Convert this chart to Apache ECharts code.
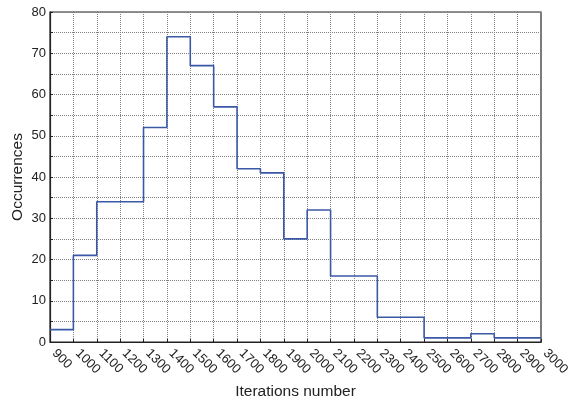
<!DOCTYPE html>
<html>
<head>
<meta charset="utf-8">
<script src="https://cdn.jsdelivr.net/npm/echarts@6/dist/echarts.min.js"></script>
<style>html,body{margin:0;padding:0;background:#fff;}#c{width:569px;height:401px;}</style>
</head>
<body>
<div id="c"></div>
<script>
const binStarts = [900,1000,1100,1200,1300,1400,1500,1600,1700,1800,1900,2000,2100,2200,2300,2400,2500,2600,2700,2800,2900];
const counts    = [3,21,34,34,52,74,67,57,42,41,25,32,16,16,6,6,1,1,2,1,1];
const binEnd = 3000;
const xLabel = 'Iterations number';
const yLabel = 'Occurrences';

const data = binStarts.map((x, i) => [x, counts[i]]);
data.push([binEnd, counts[counts.length - 1]]);

const font = '"Liberation Sans", Arial, Helvetica, sans-serif';
const grid = '#808080';
const chart = echarts.init(document.getElementById('c'), null, {renderer: 'canvas'});
chart.setOption({
  animation: false,
  backgroundColor: '#fff',
  grid: {left: 50, right: 28, top: 12, bottom: 59, containLabel: false, outerBoundsMode: 'none',
         show: true, borderColor: '#222', borderWidth: 1.2, backgroundColor: 'transparent'},
  xAxis: {
    type: 'value', min: 900, max: 3000, interval: 100,
    name: xLabel, nameLocation: 'middle', nameGap: 42, nameMoveOverlap: false,
    nameTextStyle: {fontFamily: font, fontSize: 15.5, color: '#222'},
    axisLine: {show: true, lineStyle: {color: '#222', width: 1.2}},
    axisTick: {show: true, inside: true, length: 3, lineStyle: {color: '#222'}},
    axisLabel: {rotate: -45, fontFamily: font, fontSize: 13, color: '#222', margin: 5, padding: [0, 0, 0, 6],
                formatter: v => String(v), showMaxLabel: true, showMinLabel: true, hideOverlap: false},
    splitLine: {show: true, lineStyle: {color: grid, type: [1, 1], width: 1}}
  },
  yAxis: {
    type: 'value', min: 0, max: 80, interval: 10,
    name: yLabel, nameLocation: 'middle', nameGap: 24, nameMoveOverlap: false,
    nameTextStyle: {fontFamily: font, fontSize: 15.5, color: '#222'},
    axisLine: {show: true, lineStyle: {color: '#222', width: 1.2}},
    axisTick: {show: true, inside: true, length: 3, lineStyle: {color: '#222'}},
    minorTick: {show: true, splitNumber: 2, length: 3, lineStyle: {color: '#222'}},
    axisLabel: {fontFamily: font, fontSize: 13, color: '#222', margin: 4},
    splitLine: {show: true, lineStyle: {color: grid, type: [1, 1], width: 1}},
    minorSplitLine: {show: true, lineStyle: {color: grid, type: [1, 1], width: 1}}
  },
  series: [{
    type: 'line', step: 'end', data: data, showSymbol: false, symbol: 'none',
    lineStyle: {color: '#3a58a6', width: 1.6}
  }]
});
</script>
</body>
</html>
